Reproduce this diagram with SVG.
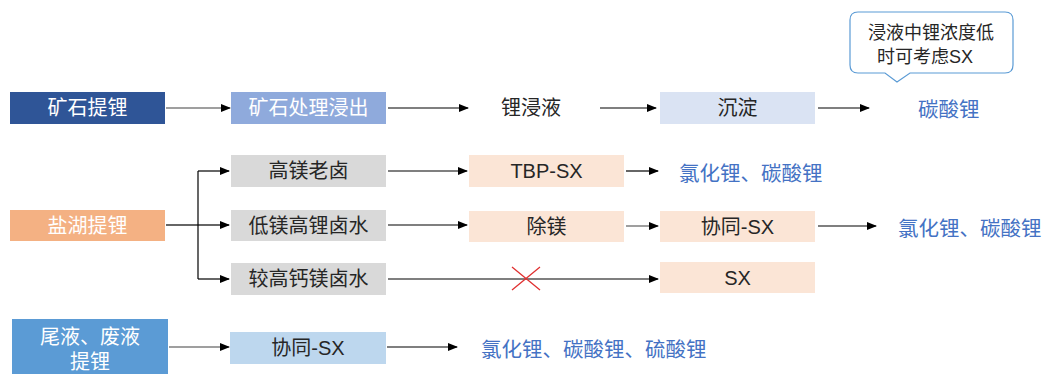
<svg xmlns="http://www.w3.org/2000/svg" width="1043" height="374" viewBox="0 0 1043 374">
<defs>
<marker id="ah" markerWidth="10" markerHeight="8" refX="9" refY="4" orient="auto" markerUnits="userSpaceOnUse">
<path d="M0,0 L10,4 L0,8 Z" fill="#000"/>
</marker>
<style>
text{font-family:"Liberation Sans","Noto Sans CJK SC",sans-serif;font-size:20px;text-anchor:middle;dominant-baseline:central;fill:#262626}
.w{fill:#fff}
.b{fill:#4472C4;font-size:20.5px;text-anchor:start}
.c{stroke:#000;stroke-width:1.2;fill:none}
.g{stroke:#7f7f7f;stroke-width:1.5;fill:none}
</style>
</defs>
<rect width="1043" height="374" fill="#fff"/>
<g id="connectors">
<line class="g" x1="166" y1="108" x2="230" y2="108" marker-end="url(#ah)"/>
<line class="c" x1="388" y1="108" x2="468" y2="108" marker-end="url(#ah)"/>
<line class="c" x1="600" y1="108" x2="656" y2="108" marker-end="url(#ah)"/>
<line class="c" x1="818" y1="108" x2="869" y2="108" marker-end="url(#ah)"/>
<polyline class="c" points="166,225 198,225"/>
<line class="c" x1="198" y1="171" x2="198" y2="279"/>
<line class="c" x1="198" y1="171" x2="229" y2="171" marker-end="url(#ah)"/>
<line class="c" x1="198" y1="225" x2="229" y2="225" marker-end="url(#ah)"/>
<line class="c" x1="198" y1="279" x2="229" y2="279" marker-end="url(#ah)"/>
<line class="c" x1="388" y1="171" x2="467" y2="171" marker-end="url(#ah)"/>
<line class="c" x1="626" y1="171" x2="658" y2="171" marker-end="url(#ah)"/>
<line class="c" x1="388" y1="225" x2="467" y2="225" marker-end="url(#ah)"/>
<line class="g" x1="626" y1="226" x2="658" y2="226" marker-end="url(#ah)"/>
<line class="c" x1="818" y1="226" x2="876" y2="226" marker-end="url(#ah)"/>
<line class="c" x1="388" y1="279" x2="658" y2="279" marker-end="url(#ah)"/>
<line class="g" x1="169" y1="347" x2="229" y2="347" marker-end="url(#ah)"/>
<line class="c" x1="387" y1="347" x2="457" y2="347" marker-end="url(#ah)"/>
<path d="M512,267 L540,290 M540,267 L512,290" stroke="#E03030" stroke-width="1.3" fill="none"/>
</g>
<g id="n1"><rect x="10" y="92" width="155" height="32" fill="#2F5597"/><text class="w" x="87.5" y="108">矿石提锂</text></g>
<g id="n2"><rect x="231" y="92" width="155" height="32" fill="#8FAADC"/><text class="w" x="308.5" y="108">矿石处理浸出</text></g>
<g id="n3"><text x="531" y="108">锂浸液</text></g>
<g id="n4"><rect x="660" y="92" width="155" height="32" fill="#DAE3F3"/><text x="737.5" y="108">沉淀</text></g>
<g id="n5"><text class="b" x="918" y="109">碳酸锂</text></g>
<g id="callout"><path d="M858,12 H1005 Q1013,12 1013,20 V65 Q1013,73 1005,73 H910 L897,82 L885,73 H858 Q850,73 850,65 V20 Q850,12 858,12 Z" fill="#fff" stroke="#5B9BD5" stroke-width="1.2"/><text x="931" y="33" style="font-size:18px">浸液中锂浓度低</text><text x="925" y="57" style="font-size:18px">时可考虑SX</text></g>
<g id="n6"><rect x="10" y="210" width="155" height="31" fill="#F4B183"/><text class="w" x="87.5" y="226">盐湖提锂</text></g>
<g id="n7"><rect x="231" y="155" width="155" height="32" fill="#D9D9D9"/><text x="308.5" y="171">高镁老卤</text></g>
<g id="n8"><rect x="231" y="210" width="155" height="31" fill="#D9D9D9"/><text x="308.5" y="226">低镁高锂卤水</text></g>
<g id="n9"><rect x="231" y="263" width="155" height="32" fill="#D9D9D9"/><text x="308.5" y="279">较高钙镁卤水</text></g>
<g id="n10"><rect x="469" y="155" width="155" height="32" fill="#FBE5D6"/><text x="546.5" y="171">TBP-SX</text></g>
<g id="n11"><text class="b" x="679" y="173">氯化锂、碳酸锂</text></g>
<g id="n12"><rect x="469" y="211" width="155" height="31" fill="#FBE5D6"/><text x="546.5" y="227">除镁</text></g>
<g id="n13"><rect x="660" y="211" width="155" height="31" fill="#FBE5D6"/><text x="737.5" y="227">协同-SX</text></g>
<g id="n14"><text class="b" x="898" y="228">氯化锂、碳酸锂</text></g>
<g id="n15"><rect x="660" y="262" width="155" height="31" fill="#FBE5D6"/><text x="737.5" y="278">SX</text></g>
<g id="n16"><rect x="12" y="319" width="156" height="55" fill="#5B9BD5"/><text class="w" x="90" y="337">尾液、废液</text><text class="w" x="90" y="362">提锂</text></g>
<g id="n17"><rect x="230" y="332" width="156" height="32" fill="#BDD7EE"/><text x="308" y="348">协同-SX</text></g>
<g id="n18"><text class="b" x="481" y="349">氯化锂、碳酸锂、硫酸锂</text></g>
</svg>
